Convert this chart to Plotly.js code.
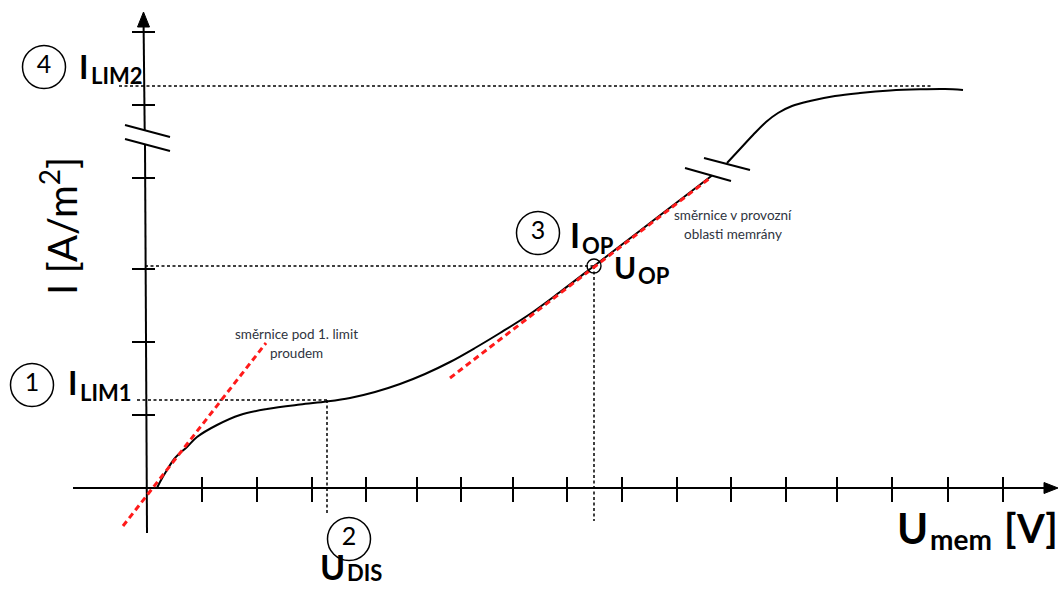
<!DOCTYPE html>
<html>
<head>
<meta charset="utf-8">
<script src="https://cdn.plot.ly/plotly-3.0.1.min.js"></script>
<style>
  html, body { margin: 0; padding: 0; background: #fff; }
  #chart { width: 1059px; height: 590px; }
</style>
</head>
<body>
<div id="chart"></div>
<script>
// Membrane current density I vs. membrane voltage U_mem (schematic, arbitrary units)

// characteristic below the axis break
const U_LOW = [10, 13, 20, 28, 40, 50, 70, 93, 120, 153, 180, 203, 228, 253, 278, 303, 328, 353, 383, 413, 447, 473, 503, 533, 565];
const I_LOW = [0, 6, 18, 30, 41, 51, 63, 73, 79, 83.5, 86.5, 90, 96, 104, 114, 126, 140, 155, 174, 196, 222, 242, 265, 288, 312.5];
// characteristic above the axis break (saturation towards I_LIM2)
const U_HIGH = [580, 593, 606, 619, 631, 645, 663, 688, 713, 743, 773, 798, 816];
const I_HIGH = [325, 339, 353, 366, 375, 382, 387, 392, 395, 397.5, 398.7, 399, 398];

// tick positions
const U_TICKS = [55, 110, 165, 219, 270, 314, 366, 420, 475, 530, 584, 639, 690, 745, 801, 856];
const I_TICKS = [73, 146, 219, 310, 383, 456];

// characteristic points
const U_DIS = 180, I_LIM1 = 88;
const U_OP = 447, I_OP = 222;
const I_LIM2 = 402;

// tangents
const SLOPE_LOW_U = [-24, 119], SLOPE_LOW_I = [-38, 145];
const SLOPE_OP_U = [303, 563], SLOPE_OP_I = [110, 310];

// ---- drawing helpers ----
const BLACK = '#000000';
const RED = '#ff1a1a';
const NOTE = '#2f3440';
const FONT = 'Lato, "Open Sans", sans-serif';

function seg(x, y, opts) {
  return Object.assign({
    type: 'scatter', mode: 'lines', x: x, y: y, hoverinfo: 'skip',
    line: { color: BLACK, width: 2 }
  }, opts || {});
}

const traces = [];

// x axis with arrow
traces.push(seg([-74, 897], [0, 0]));
traces.push(seg([897, 911, 897, 897], [5.5, 0, -5.5, 5.5], { fill: 'toself', fillcolor: BLACK, line: { color: BLACK, width: 1 } }));
// y axis (broken) with arrow
traces.push(seg([0, -2], [-45, 344]));
traces.push(seg([-2.3, -3.4], [357.5, 462]));
traces.push(seg([-9.5, -3.5, 2.5, -9.5], [461, 476, 461, 461], { fill: 'toself', fillcolor: BLACK, line: { color: BLACK, width: 1 } }));
// axis break marks
traces.push(seg([-22, 23, null, -22, 23], [363, 351, null, 349, 337]));

// ticks
const tx = [], ty = [];
U_TICKS.forEach(u => { tx.push(u, u, null); ty.push(11, -14, null); });
traces.push(seg(tx, ty));
const gx = [], gy = [];
I_TICKS.forEach(i => { gx.push(-15, 8, null); gy.push(i, i, null); });
traces.push(seg(gx, gy));

// guide lines
const DOT = { color: BLACK, width: 1.5, dash: '3px,2.5px' };
traces.push(seg([-28, 786], [I_LIM2, I_LIM2], { line: DOT }));
traces.push(seg([-2, U_OP, null, U_OP, U_OP], [I_OP, I_OP, null, I_OP, -33], { line: DOT }));
traces.push(seg([-10, U_DIS, null, U_DIS, U_DIS], [I_LIM1, I_LIM1, null, I_LIM1, -25], { line: DOT }));

// characteristic
traces.push(seg(U_LOW, I_LOW, { line: { color: BLACK, width: 2, shape: 'spline', smoothing: 1 } }));
traces.push(seg(U_HIGH, I_HIGH, { line: { color: BLACK, width: 2, shape: 'spline', smoothing: 1 } }));
// break marks on the characteristic
traces.push(seg([538, 584, null, 557, 603], [320, 307, null, 330, 318]));

// tangents
const DASH = { color: RED, width: 3, dash: '6px,4px' };
traces.push(seg(SLOPE_LOW_U, SLOPE_LOW_I, { line: DASH }));
traces.push(seg(SLOPE_OP_U, SLOPE_OP_I, { line: DASH }));

// operating point
traces.push({
  type: 'scatter', mode: 'markers', x: [U_OP], y: [I_OP], hoverinfo: 'skip',
  marker: { symbol: 'circle-open', size: 14, color: BLACK, line: { width: 1.4, color: BLACK } }
});

// circled point numbers
traces.push({
  type: 'scatter', mode: 'markers+text', hoverinfo: 'skip',
  x: [-115, 202, 391, -103], y: [103, -51, 255, 421],
  text: ['1', '2', '3', '4'], textposition: 'middle center',
  textfont: { family: FONT, size: 25, color: BLACK },
  marker: { symbol: 'circle-open', size: 43, color: BLACK, line: { width: 1.5, color: BLACK } },
  cliponaxis: false
});

function label(text, x, y, size, bold, extra) {
  return Object.assign({
    text: text, x: x, y: y, xref: 'x', yref: 'y', showarrow: false,
    xanchor: 'left', yanchor: 'middle', borderpad: 0,
    font: { family: FONT, size: size, color: BLACK, weight: bold ? 700 : 400 }
  }, extra || {});
}
// symbol with subscript: main letter ends where the subscript starts
function symbol(main, sub, x, yMain, ySub, sizeMain, sizeSub) {
  return [
    label(main, x, yMain, sizeMain, true, { xanchor: 'right' }),
    label(sub, x, ySub, sizeSub, true)
  ];
}

const annotations = [].concat(
  symbol('I', 'LIM2', -57, 421.5, 413, 32, 22),
  symbol('I', 'LIM1', -68, 106, 96, 32, 22),
  symbol('U', 'DIS', 199, -78, -84, 34, 22),
  symbol('I', 'OP', 434, 253.5, 242.5, 34, 22),
  symbol('U', 'OP', 490, 221.5, 213, 30, 22),
  symbol('U', 'mem', 782, -40, -51, 42, 28),
  [
    label('[V]', 856, -40, 40, true),
    label('I [A/m<sup>2</sup>]', -88, 262, 40, false, { xanchor: 'center', textangle: -90 }),
    label('směrnice v provozní', 586, 273, 13.5, false, { xanchor: 'center', font: { family: FONT, size: 13.5, color: NOTE } }),
    label('oblasti memrány', 586, 254, 13.5, false, { xanchor: 'center', font: { family: FONT, size: 13.5, color: NOTE } }),
    label('směrnice pod 1. limit', 149, 154, 13.5, false, { xanchor: 'center', font: { family: FONT, size: 13.5, color: NOTE } }),
    label('proudem', 149, 135, 13.5, false, { xanchor: 'center', font: { family: FONT, size: 13.5, color: NOTE } })
  ]
);

const layout = {
  width: 1059, height: 590,
  margin: { l: 0, r: 0, t: 0, b: 0, pad: 0 },
  paper_bgcolor: '#ffffff', plot_bgcolor: '#ffffff',
  showlegend: false,
  xaxis: { range: [-147, 912], visible: false, fixedrange: true },
  yaxis: { range: [-102, 488], visible: false, fixedrange: true },
  annotations: annotations
};

Plotly.newPlot('chart', traces, layout, { staticPlot: true, displayModeBar: false });
</script>
</body>
</html>
